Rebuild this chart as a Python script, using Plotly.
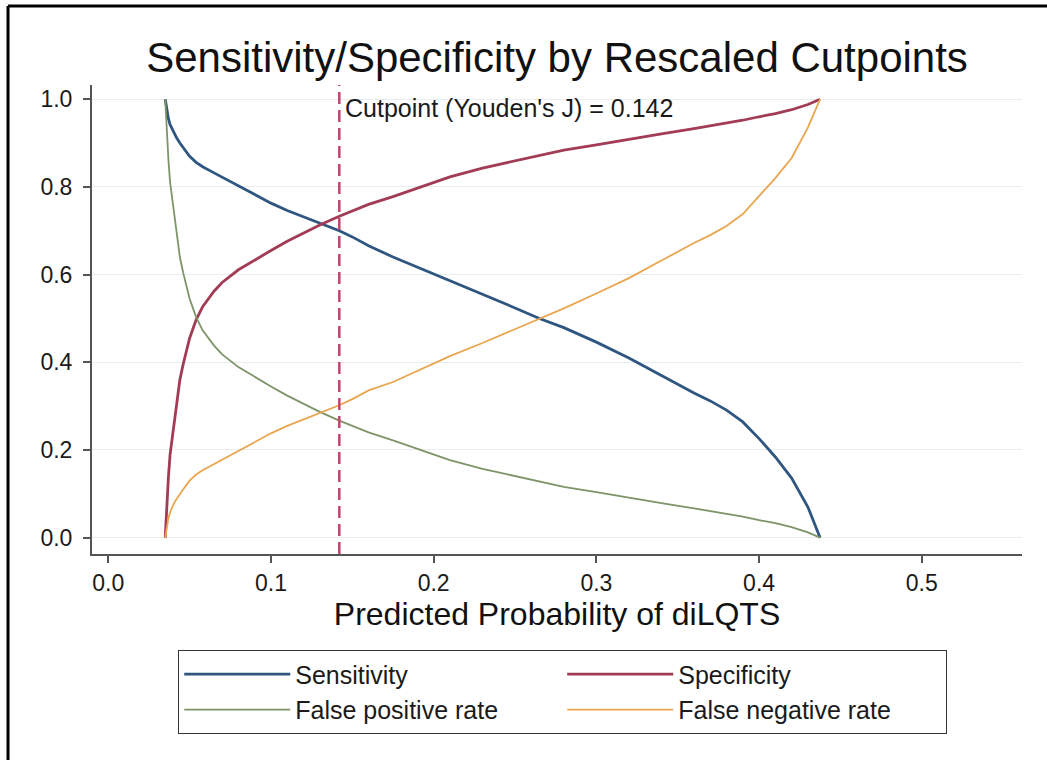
import plotly.graph_objects as go

# ---- data ----
cutpoints = [0.035, 0.036, 0.037, 0.038, 0.040, 0.042, 0.044, 0.046, 0.050, 0.054,
             0.058, 0.065, 0.070, 0.080, 0.090, 0.100, 0.110, 0.120, 0.130, 0.142,
             0.150, 0.160, 0.175, 0.190, 0.210, 0.230, 0.250, 0.265, 0.280, 0.300,
             0.320, 0.340, 0.360, 0.370, 0.380, 0.390, 0.400, 0.410, 0.420, 0.430,
             0.4375]

sensitivity = [1.000, 0.975, 0.955, 0.942, 0.925, 0.912, 0.900, 0.890, 0.870, 0.856,
               0.846, 0.832, 0.822, 0.803, 0.783, 0.763, 0.746, 0.732, 0.717, 0.700,
               0.686, 0.666, 0.640, 0.617, 0.586, 0.556, 0.524, 0.500, 0.479, 0.446,
               0.410, 0.370, 0.330, 0.312, 0.291, 0.264, 0.226, 0.184, 0.136, 0.070,
               0.000]

specificity = [0.000, 0.080, 0.140, 0.190, 0.250, 0.310, 0.360, 0.395, 0.455, 0.497,
               0.527, 0.562, 0.582, 0.611, 0.634, 0.655, 0.676, 0.695, 0.713, 0.733,
               0.745, 0.760, 0.778, 0.797, 0.823, 0.843, 0.860, 0.872, 0.884, 0.896,
               0.909, 0.921, 0.933, 0.939, 0.945, 0.952, 0.960, 0.967, 0.976, 0.988,
               1.000]

false_positive_rate = [1.000, 0.920, 0.860, 0.810, 0.750, 0.690, 0.640, 0.605, 0.545, 0.503,
                       0.473, 0.438, 0.418, 0.389, 0.366, 0.345, 0.324, 0.305, 0.287, 0.267,
                       0.255, 0.240, 0.222, 0.203, 0.177, 0.157, 0.140, 0.128, 0.116, 0.104,
                       0.091, 0.079, 0.067, 0.061, 0.055, 0.048, 0.040, 0.033, 0.024, 0.012,
                       0.000]

false_negative_rate = [0.000, 0.025, 0.045, 0.058, 0.076, 0.088, 0.100, 0.110, 0.130, 0.144,
                       0.154, 0.168, 0.178, 0.198, 0.218, 0.238, 0.255, 0.270, 0.285, 0.302,
                       0.316, 0.336, 0.355, 0.380, 0.414, 0.444, 0.476, 0.500, 0.523, 0.557,
                       0.592, 0.632, 0.672, 0.690, 0.711, 0.738, 0.778, 0.820, 0.866, 0.935,
                       1.000]

youden_cutpoint = 0.142
x_ticks = [0.0, 0.1, 0.2, 0.3, 0.4, 0.5]
x_tick_labels = ["0.0", "0.1", "0.2", "0.3", "0.4", "0.5"]
y_ticks = [0.0, 0.2, 0.4, 0.6, 0.8, 1.0]
y_tick_labels = ["0.0", "0.2", "0.4", "0.6", "0.8", "1.0"]

series = [
    ("Sensitivity", sensitivity, "#2f5680", 2.8),
    ("Specificity", specificity, "#a23c55", 2.8),
    ("False positive rate", false_positive_rate, "#7d9468", 1.8),
    ("False negative rate", false_negative_rate, "#eaa54f", 1.8),
]

FONT = "Liberation Sans, Arial, sans-serif"

fig = go.Figure()
for name, vals, color, w in series:
    fig.add_trace(go.Scatter(x=cutpoints, y=vals, mode="lines", name=name,
                             line=dict(color=color, width=w)))

# Youden's J cutpoint line
fig.add_shape(type="line", xref="x", yref="paper", x0=youden_cutpoint, x1=youden_cutpoint,
              y0=0, y1=1, line=dict(color="#c8416e", width=2.5, dash="12px,6px"))
fig.add_annotation(x=youden_cutpoint, y=0.98, xref="x", yref="y", xanchor="left",
                   yanchor="middle", xshift=4, showarrow=False,
                   text="Cutpoint (Youden's J) = %.3f" % youden_cutpoint,
                   font=dict(family=FONT, size=25, color="#1a1a1a"))

# outer frame (top and left edges of the original figure border)
fig.add_shape(type="line", xref="paper", yref="paper", x0=-0.0903, x1=1.03,
              y0=1.1684, y1=1.1684, line=dict(color="#000000", width=3))
fig.add_shape(type="line", xref="paper", yref="paper", x0=-0.0903, x1=-0.0903,
              y0=1.1684, y1=-0.45, line=dict(color="#000000", width=3))

fig.update_layout(
    width=1047, height=760,
    margin=dict(l=92, r=25, t=85, b=206),
    paper_bgcolor="white", plot_bgcolor="white",
    font=dict(family=FONT, color="#1a1a1a"),
    title=dict(text="Sensitivity/Specificity by Rescaled Cutpoints",
               x=0.5, xref="paper", xanchor="center",
               y=1 - 57 / 760, yref="container", yanchor="middle",
               font=dict(family=FONT, size=42, color="#111111")),
    showlegend=True,
    legend=dict(orientation="h", x=0.0925, y=-0.205, xanchor="left", yanchor="top",
                bordercolor="#333333", borderwidth=1.2, bgcolor="white",
                entrywidth=262, entrywidthmode="pixels", itemwidth=106,
                font=dict(family=FONT, size=25, color="#1a1a1a"),
                traceorder="normal"),
    xaxis=dict(range=[-0.010, 0.5616], tickvals=x_ticks, ticktext=x_tick_labels,
               showgrid=False, zeroline=False, showline=True, linecolor="#555555",
               linewidth=2, ticks="outside", ticklen=7, tickwidth=1.5, tickcolor="#555555",
               tickfont=dict(family=FONT, size=23, color="#1a1a1a"),
               title=dict(text="Predicted Probability of diLQTS", standoff=4,
                          font=dict(family=FONT, size=32, color="#111111"))),
    yaxis=dict(range=[-0.0372, 1.0324], tickvals=y_ticks, ticktext=y_tick_labels,
               showgrid=True, gridcolor="#e9edf0", gridwidth=1, zeroline=False,
               showline=True, linecolor="#555555", linewidth=2, ticks="outside",
               ticklen=7, tickwidth=1.5, tickcolor="#555555", ticklabelstandoff=6,
               tickfont=dict(family=FONT, size=23, color="#1a1a1a")),
)

fig.write_html("out.html", config={"displayModeBar": False},
               post_script="document.body.style.margin='0';document.body.style.overflow='hidden';")
